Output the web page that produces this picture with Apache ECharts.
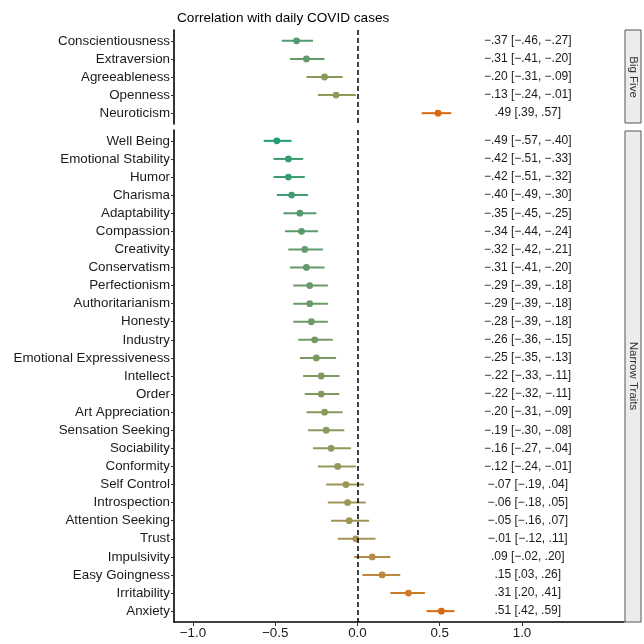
<!DOCTYPE html>
<html>
<head>
<meta charset="utf-8">
<script src="https://cdn.jsdelivr.net/npm/echarts@6/dist/echarts.min.js"></script>
<style>html,body{margin:0;padding:0;background:#fff}#c{width:644px;height:644px}</style>
</head>
<body>
<div id="c"></div>
<script>
const bigNames = ['Conscientiousness','Extraversion','Agreeableness','Openness','Neuroticism'];
const bigEst = [-0.37,-0.31,-0.20,-0.13,0.49];
const bigLo  = [-0.46,-0.41,-0.31,-0.24,0.39];
const bigHi  = [-0.27,-0.20,-0.09,-0.01,0.57];

const narrowNames = ['Well Being','Emotional Stability','Humor','Charisma','Adaptability','Compassion','Creativity','Conservatism','Perfectionism','Authoritarianism','Honesty','Industry','Emotional Expressiveness','Intellect','Order','Art Appreciation','Sensation Seeking','Sociability','Conformity','Self Control','Introspection','Attention Seeking','Trust','Impulsivity','Easy Goingness','Irritability','Anxiety'];
const narrowEst = [-0.49,-0.42,-0.42,-0.40,-0.35,-0.34,-0.32,-0.31,-0.29,-0.29,-0.28,-0.26,-0.25,-0.22,-0.22,-0.20,-0.19,-0.16,-0.12,-0.07,-0.06,-0.05,-0.01,0.09,0.15,0.31,0.51];
const narrowLo  = [-0.57,-0.51,-0.51,-0.49,-0.45,-0.44,-0.42,-0.41,-0.39,-0.39,-0.39,-0.36,-0.35,-0.33,-0.32,-0.31,-0.30,-0.27,-0.24,-0.19,-0.18,-0.16,-0.12,-0.02,0.03,0.20,0.42];
const narrowHi  = [-0.40,-0.33,-0.32,-0.30,-0.25,-0.24,-0.21,-0.20,-0.18,-0.18,-0.18,-0.15,-0.13,-0.11,-0.11,-0.09,-0.08,-0.04,-0.01,0.04,0.05,0.07,0.11,0.20,0.26,0.41,0.59];

const xTicks = [-1.0,-0.5,0.0,0.5,1.0];
const facetNames = ['Big Five','Narrow Traits'];

const stops = [[-0.5,[27,158,119]],[-0.35,[86,155,110]],[-0.2,[136,153,92]],[0,[166,148,85]],[0.2,[196,131,57]],[0.5,[217,104,16]]];
function colorFor(v){
  if (v<=stops[0][0]) return 'rgb('+stops[0][1].join(',')+')';
  for (let i=1;i<stops.length;i++){
    if (v<=stops[i][0]){
      const t=(v-stops[i-1][0])/(stops[i][0]-stops[i-1][0]);
      const a=stops[i-1][1], b=stops[i][1];
      return 'rgb('+a.map((x,k)=>Math.round(x+(b[k]-x)*t)).join(',')+')';
    }
  }
  return 'rgb('+stops[stops.length-1][1].join(',')+')';
}
function fmt(v){
  const s = Math.abs(v).toFixed(2).replace(/^0/,'');
  return (v<0?'\u2212':'')+s;
}
const FONT = '"Liberation Sans", Arial, Helvetica, sans-serif';
const XMIN=-1.115, XMAX=1.62, TEXTX=1.035;

function rows(est,lo,hi){ return est.map((e,i)=>[e,i,lo[i],hi[i]]); }

function yAxis(names, gi){
  const idx = names.map((_,i)=>i);
  return {
    type:'value', gridIndex:gi, inverse:true, min:-0.6, max:names.length-0.4,
    axisLine:{show:true,onZero:false,lineStyle:{color:'#000',width:1.6}},
    axisTick:{show:true,length:3,lineStyle:{color:'#333',width:1},customValues:idx},
    axisLabel:{color:'#1a1a1a',fontSize:13.35,fontFamily:FONT,margin:4,customValues:idx,
      formatter:v=>names[Math.round(v)]},
    splitLine:{show:false}
  };
}
function xAxis(gi, show){
  return {
    type:'value', gridIndex:gi, min:XMIN, max:XMAX, show:show,
    axisLine:{show:true,onZero:false,lineStyle:{color:'#000',width:1.6}},
    axisTick:{show:true,length:4,lineStyle:{color:'#333',width:1},customValues:xTicks},
    axisLabel:{color:'#1a1a1a',fontSize:13.35,fontFamily:FONT,margin:5,customValues:xTicks,
      formatter:v=>(v<0?'\u2212':'')+Math.abs(v).toFixed(1)},
    splitLine:{show:false}
  };
}
function pointSeries(data, gi){
  return {
    type:'custom', xAxisIndex:gi, yAxisIndex:gi, data:data,
    encode:{x:[0,2,3], y:1},
    renderItem:function(params, api){
      const e=api.value(0), i=api.value(1), lo=api.value(2), hi=api.value(3);
      const c=colorFor(e);
      const p=api.coord([e,i]), a=api.coord([lo,i]), b=api.coord([hi,i]);
      return {type:'group',children:[
        {type:'line',shape:{x1:a[0],y1:a[1],x2:b[0],y2:b[1]},style:{stroke:c,lineWidth:2}},
        {type:'circle',shape:{cx:p[0],cy:p[1],r:3.4},style:{fill:c}}
      ]};
    },
    markLine:{silent:true,symbol:'none',label:{show:false},
      lineStyle:{color:'#000',type:[5,3],width:1.5},data:[{xAxis:0}]},
    z:3
  };
}
function textSeries(data, gi){
  return {
    type:'custom', xAxisIndex:gi, yAxisIndex:gi, data:data,
    encode:{y:1},
    renderItem:function(params, api){
      const e=api.value(0), i=api.value(1), lo=api.value(2), hi=api.value(3);
      const p=api.coord([TEXTX,i]);
      return {type:'text',style:{x:p[0],y:p[1],text:fmt(e)+' ['+fmt(lo)+', '+fmt(hi)+']',
        fill:'#1a1a1a',font:'12px '+FONT,align:'center',verticalAlign:'middle'}};
    }
  };
}

const chart = echarts.init(document.getElementById('c'));
const g0={left:174,right:20,top:30,height:94};
const g1={left:174,right:20,top:130,height:492};
chart.setOption({
  animation:false,
  title:{text:'Correlation with daily COVID cases',left:172,top:6,
    textStyle:{fontSize:13.6,fontWeight:'normal',color:'#000',fontFamily:FONT}},
  grid:[g0,g1],
  xAxis:[xAxis(0,false),xAxis(1,true)],
  yAxis:[yAxis(bigNames,0),yAxis(narrowNames,1)],
  series:[
    pointSeries(rows(bigEst,bigLo,bigHi),0),
    textSeries(rows(bigEst,bigLo,bigHi),0),
    pointSeries(rows(narrowEst,narrowLo,narrowHi),1),
    textSeries(rows(narrowEst,narrowLo,narrowHi),1)
  ],
  graphic:[
    {type:'rect',shape:{x:625,y:30,width:16,height:93},style:{fill:'#ececec',stroke:'#555',lineWidth:1}},
    {type:'text',x:633,y:77,rotation:-Math.PI/2,style:{text:facetNames[0],fill:'#333',font:'11.5px '+FONT,align:'center',verticalAlign:'middle'}},
    {type:'rect',shape:{x:625,y:131,width:16,height:491},style:{fill:'#ececec',stroke:'#555',lineWidth:1}},
    {type:'text',x:633,y:376,rotation:-Math.PI/2,style:{text:facetNames[1],fill:'#333',font:'11.5px '+FONT,align:'center',verticalAlign:'middle'}}
  ]
});
</script>
</body>
</html>
